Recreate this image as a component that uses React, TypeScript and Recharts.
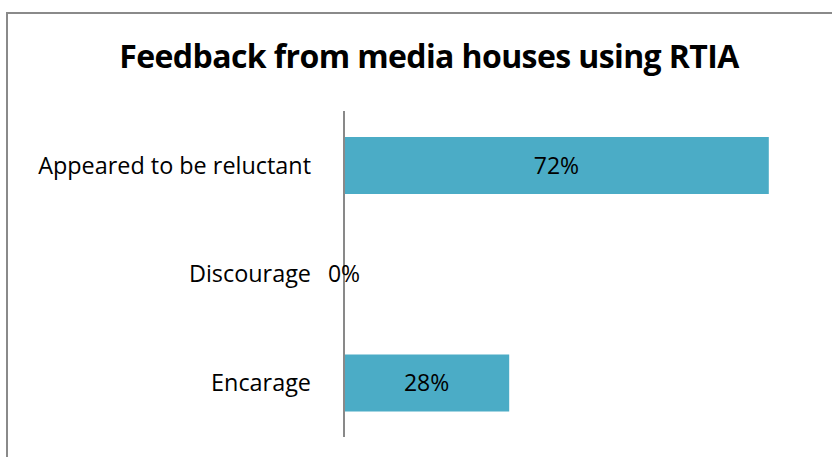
import React from 'react';
import { BarChart, Bar, XAxis, YAxis, LabelList } from 'recharts';

const categories = ['Appeared to be reluctant', 'Discourage', 'Encarage'];
const shares = [0.72, 0, 0.28];
const shareLabels = ['72%', '0%', '28%'];

const data = categories.map((name, i) => ({ name, value: shares[i], label: shareLabels[i] }));

const font = '"Open Sans", sans-serif';

export default function App() {
  return (
    <div
      style={{
        position: 'fixed',
        left: 0,
        top: 0,
        width: 832,
        height: 457,
        overflow: 'hidden',
        background: '#fff',
        fontFamily: font,
      }}
    >
      {/* chart frame, runs off the right and bottom edges */}
      <div
        style={{
          position: 'absolute',
          left: 6,
          top: 12,
          width: 900,
          height: 500,
          border: '2px solid #8a8a8a',
          boxSizing: 'border-box',
        }}
      />
      <div
        style={{
          position: 'absolute',
          left: 0,
          width: 858,
          top: 34,
          textAlign: 'center',
          fontSize: 32,
          fontWeight: 700,
          color: '#000',
          letterSpacing: -0.6,
        }}
      >
        Feedback from media houses using RTIA
      </div>
      <div style={{ position: 'absolute', left: 0, top: 0 }}>
        <BarChart
          width={934}
          height={457}
          layout="vertical"
          data={data}
          margin={{ top: 111, right: 0, bottom: 20, left: 0 }}
          barCategoryGap="24%"
        >
          <XAxis type="number" domain={[0, 1]} hide />
          <YAxis
            type="category"
            dataKey="name"
            width={344}
            tickLine={false}
            tickMargin={27}
            axisLine={{ stroke: '#898989', strokeWidth: 2 }}
            tick={{ fill: '#000', fontSize: 23.4, fontFamily: font }}
          />
          <Bar dataKey="value" fill="#4BACC6" minPointSize={0.001} isAnimationActive={false}>
            <LabelList
              dataKey="label"
              position="center"
              fill="#000"
              fontSize={23}
              fontFamily={font}
            />
          </Bar>
        </BarChart>
      </div>
    </div>
  );
}
